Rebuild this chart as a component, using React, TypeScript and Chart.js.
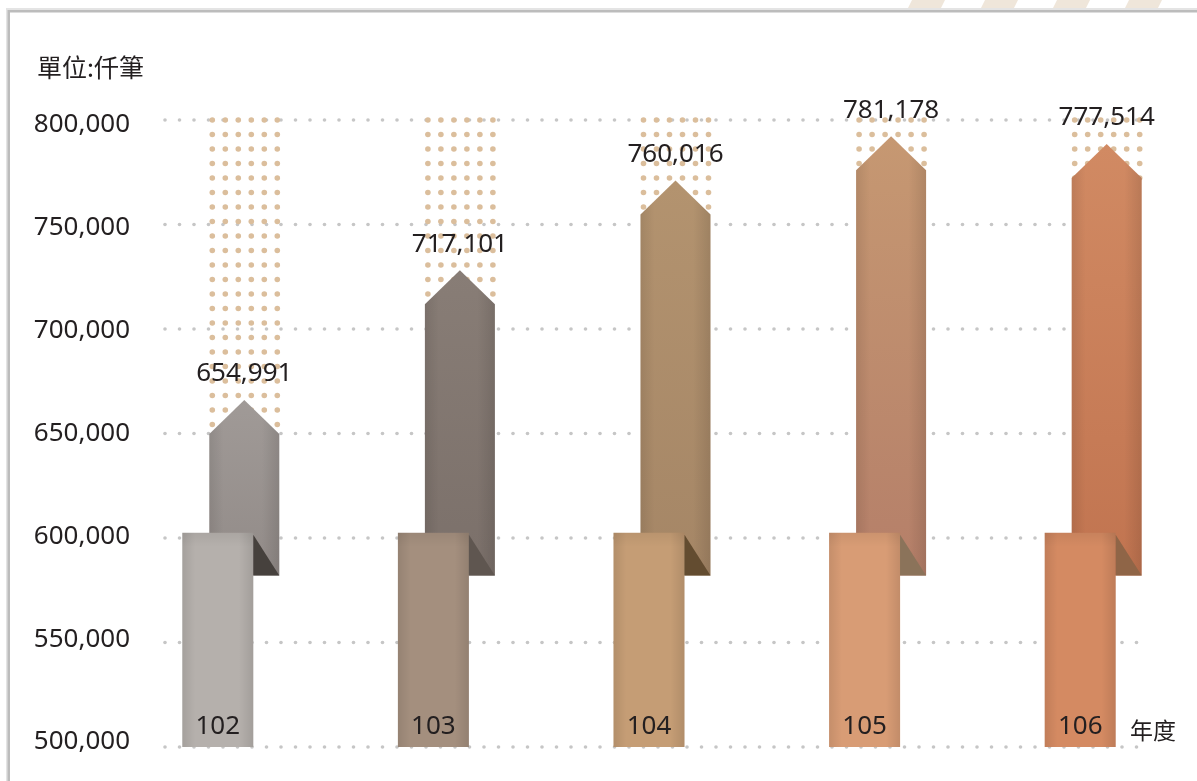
import React, { useEffect, useRef } from "react";
import { Chart, registerables } from "chart.js";

Chart.register(...registerables);

// ---- data ----
const years: string[] = ["102", "103", "104", "105", "106"];
const values: number[] = [654991, 717101, 760016, 781178, 777514];
const yTicks: number[] = [500000, 550000, 600000, 650000, 700000, 750000, 800000];
const unitLabel = "單位:仟筆";
const axisLabel = "年度";

// decorative levels (data units)
const yMin = 500000;
const yMax = 800000;
const arrowBase = 582000;
const ribbonTop = 602500;

// ---- styles ----
const arrowTop = ["#a09a97", "#887d76", "#b3936f", "#c69872", "#d18a63"];
const arrowBottom = ["#928b88", "#7b706a", "#a58666", "#b57f69", "#c17450"];
const ribbonColors = ["#b5b0ac", "#a48f7e", "#c59d75", "#d89c75", "#d48a62"];
const foldColors = ["#46413d", "#5f5650", "#634c30", "#8b735a", "#8f6547"];

const FONT = '"Noto Sans", "DejaVu Sans", sans-serif';
const CJK = '"Noto Sans CJK TC", "Noto Sans CJK SC", sans-serif';
const TEXT = "#231f20";
const TIP_OFF = 23;
const SHOULDER_OFF = 11;
const RIBBON_SHIFT = 27;
const RIBBON_W = 71;

function dot(ctx: CanvasRenderingContext2D, x: number, y: number, r: number) {
  ctx.beginPath();
  ctx.arc(x, y, r, 0, Math.PI * 2);
  ctx.fill();
}

const decorPlugin = {
  id: "decor",
  beforeDraw(chart: any) {
    const { ctx, width, height, chartArea, scales } = chart;
    const ys = scales.y;
    ctx.save();
    ctx.fillStyle = "#ffffff";
    ctx.fillRect(0, 0, width, height);
    // stripes top-right
    ctx.fillStyle = "#efe6da";
    for (const x0 of [907, 980, 1052, 1124]) {
      ctx.beginPath();
      ctx.moveTo(x0, 10);
      ctx.lineTo(x0 + 33, 10);
      ctx.lineTo(x0 + 38, 0);
      ctx.lineTo(x0 + 5, 0);
      ctx.closePath();
      ctx.fill();
    }
    // frame with soft shadow
    ctx.fillStyle = "#e4e4e4";
    ctx.fillRect(6, 8, width - 6, 2);
    ctx.fillRect(6, 8, 2, height - 8);
    ctx.fillStyle = "#bcbcbc";
    ctx.fillRect(8, 10, width - 8, 2.5);
    ctx.fillRect(7.5, 10, 2.5, height - 10);
    // unit title
    ctx.fillStyle = TEXT;
    ctx.font = `25px ${CJK}`;
    ctx.textAlign = "left";
    ctx.textBaseline = "middle";
    ctx.fillText(unitLabel, 37, 67);
    // y tick labels
    ctx.font = `26px ${FONT}`;
    ctx.textAlign = "right";
    const span = ys.bottom - ys.top;
    for (const t of ys.ticks) {
      const py = ys.getPixelForValue(t.value);
      const ly = ys.top + 5 + (py - ys.top) * ((span - 10) / span);
      ctx.fillText(Number(t.value).toLocaleString("en-US"), chartArea.left - 32, ly);
    }
    ctx.restore();
  },
  beforeDatasetsDraw(chart: any) {
    const { ctx, chartArea, scales } = chart;
    const ys = scales.y;
    ctx.save();
    // dotted grid
    ctx.fillStyle = "#c6c6c6";
    for (const t of ys.ticks) {
      const py = ys.getPixelForValue(t.value);
      for (let x = chartArea.left + 3; x <= chartArea.right; x += 14.5) dot(ctx, x, py, 1.8);
    }
    // tan dotted columns
    const meta = chart.getDatasetMeta(0);
    const topPx = ys.getPixelForValue(yMax);
    ctx.fillStyle = "#dbbe9c";
    meta.data.forEach((el: any) => {
      const { x, y, width } = el.getProps(["x", "y", "width"], true);
      const left = x - width / 2;
      const shoulder = y + SHOULDER_OFF;
      for (let r = topPx; r <= shoulder + 1; r += 14.5) {
        for (let c = 0; c < 6; c++) dot(ctx, left + 3 + c * 13, r, 2.8);
      }
    });
    ctx.restore();
  },
  afterDatasetsDraw(chart: any) {
    const { ctx, chartArea, scales } = chart;
    const ys = scales.y;
    const meta = chart.getDatasetMeta(0);
    ctx.save();
    meta.data.forEach((el: any, i: number) => {
      const { x, y, base, width } = el.getProps(["x", "y", "base", "width"], true);
      const half = width / 2;
      const tip = y - TIP_OFF;
      const sh = y + SHOULDER_OFF;
      const arrowPath = () => {
        ctx.beginPath();
        ctx.moveTo(x - half, base);
        ctx.lineTo(x - half, sh);
        ctx.lineTo(x, tip);
        ctx.lineTo(x + half, sh);
        ctx.lineTo(x + half, base);
        ctx.closePath();
      };
      const vg = ctx.createLinearGradient(0, tip, 0, base);
      vg.addColorStop(0, arrowTop[i]);
      vg.addColorStop(1, arrowBottom[i]);
      arrowPath();
      ctx.fillStyle = vg;
      ctx.fill();
      const hg = ctx.createLinearGradient(x - half, 0, x + half, 0);
      hg.addColorStop(0, "rgba(0,0,0,0.09)");
      hg.addColorStop(0.2, "rgba(0,0,0,0)");
      hg.addColorStop(0.75, "rgba(0,0,0,0)");
      hg.addColorStop(1, "rgba(0,0,0,0.11)");
      arrowPath();
      ctx.fillStyle = hg;
      ctx.fill();

      // ribbon
      const rl = x - half - RIBBON_SHIFT;
      const rr = rl + RIBBON_W;
      const rt = ys.getPixelForValue(ribbonTop);
      const rb = ys.getPixelForValue(yMin);
      ctx.fillStyle = ribbonColors[i];
      ctx.fillRect(rl, rt, RIBBON_W, rb - rt);
      const rg = ctx.createLinearGradient(rl, 0, rr, 0);
      rg.addColorStop(0, "rgba(0,0,0,0.09)");
      rg.addColorStop(0.18, "rgba(0,0,0,0)");
      rg.addColorStop(0.8, "rgba(0,0,0,0)");
      rg.addColorStop(1, "rgba(0,0,0,0.10)");
      ctx.fillStyle = rg;
      ctx.fillRect(rl, rt, RIBBON_W, rb - rt);
      const tg = ctx.createLinearGradient(0, rt, 0, rt + 14);
      tg.addColorStop(0, "rgba(0,0,0,0.06)");
      tg.addColorStop(1, "rgba(0,0,0,0)");
      ctx.fillStyle = tg;
      ctx.fillRect(rl, rt, RIBBON_W, 14);

      // fold
      ctx.beginPath();
      ctx.moveTo(rr, rt + 2);
      ctx.lineTo(x + half, base);
      ctx.lineTo(rr, base);
      ctx.closePath();
      ctx.fillStyle = foldColors[i];
      ctx.fill();

      // texts
      ctx.fillStyle = TEXT;
      ctx.font = `26px ${FONT}`;
      ctx.textAlign = "center";
      ctx.textBaseline = "middle";
      ctx.fillText(values[i].toLocaleString("en-US"), x, tip - 26);
      ctx.fillText(years[i], rl + RIBBON_W / 2, rb - 20);
    });
    ctx.fillStyle = TEXT;
    ctx.font = `23px ${CJK}`;
    ctx.textAlign = "left";
    ctx.textBaseline = "middle";
    ctx.fillText(axisLabel, chartArea.right - 10, 730);
    ctx.restore();
  },
};

export default function App() {
  const ref = useRef<HTMLCanvasElement | null>(null);
  useEffect(() => {
    if (!ref.current) return;
    const chart = new Chart(ref.current, {
      type: "bar",
      data: {
        datasets: [
          {
            label: "筆數",
            data: values.map((v, i) => ({ x: i, y: [arrowBase, v] })) as any,
            backgroundColor: "rgba(0,0,0,0)",
            borderWidth: 0,
            barThickness: 70,
          },
        ],
      },
      options: {
        responsive: false,
        animation: false,
        events: [],
        layout: { padding: { left: 38, right: 57, top: 120, bottom: 34 } },
        plugins: {
          legend: { display: false },
          tooltip: { enabled: false },
          title: { display: false },
        },
        scales: {
          x: {
            type: "linear",
            display: false,
            offset: false,
            min: -0.3817,
            max: 4.1545,
          },
          y: {
            type: "linear",
            min: yMin,
            max: yMax,
            grid: { display: false, drawTicks: false },
            border: { display: false },
            afterBuildTicks: (s: any) => {
              s.ticks = yTicks.map((v) => ({ value: v }));
            },
            afterFit: (s: any) => {
              s.width = 124;
            },
            ticks: { display: false },
          },
        },
      },
      plugins: [decorPlugin],
    });
    return () => chart.destroy();
  }, []);
  return (
    <div style={{ position: "absolute", left: 0, top: 0, width: 1197, height: 781 }}>
      <canvas ref={ref} width={1197} height={781} style={{ display: "block" }} />
    </div>
  );
}
